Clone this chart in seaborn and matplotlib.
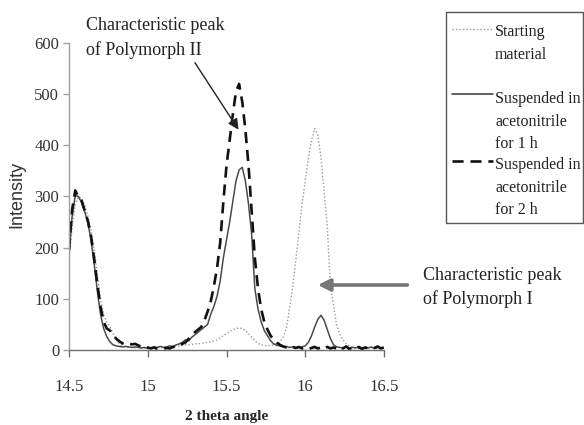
import numpy as np
import pandas as pd
import matplotlib
matplotlib.use("Agg")
import matplotlib.pyplot as plt
import seaborn as sns

# ---- data ----
two_theta = [round(14.5 + 0.02 * i, 2) for i in range(101)]

starting_material = [
    175, 240, 285, 300, 296, 282, 262, 235, 195, 148,
    100, 68, 55, 45, 32, 20, 12, 8, 6, 5,
    5, 4, 5, 3, 4, 5, 4, 3, 5, 4,
    6, 5, 4, 6, 7, 8, 9, 10, 10, 11,
    12, 12, 13, 14, 15, 16, 18, 20, 24, 28,
    32, 36, 40, 42, 43, 42, 38, 32, 25, 18,
    13, 10, 9, 8, 9, 10, 12, 16, 25, 42,
    80, 123, 175, 230, 285, 330, 375, 410, 433, 420,
    375, 310, 240, 125, 85, 48, 30, 20, 12, 8,
    6, 5, 4, 5, 3, 4, 5, 3, 4, 5, 4,
]

suspended_1h = [
    185, 262, 302, 300, 288, 270, 248, 215, 168, 115,
    70, 42, 26, 16, 10, 8, 7, 6, 7, 6,
    5, 6, 5, 4, 5, 3, 4, 6, 5, 7,
    5, 6, 8, 7, 10, 12, 15, 20, 18, 25,
    30, 35, 40, 45, 50, 70, 85, 105, 135, 180,
    215, 250, 290, 330, 352, 357, 330, 285, 225, 120,
    80, 55, 38, 28, 18, 12, 9, 8, 6, 7,
    5, 6, 4, 5, 6, 8, 15, 28, 45, 60,
    68, 58, 40, 22, 10, 6, 5, 4, 6, 3,
    5, 4, 6, 3, 5, 4, 6, 3, 5, 4, 5,
]

suspended_2h = [
    195, 275, 312, 298, 292, 272, 252, 222, 178, 128,
    85, 55, 42, 38, 30, 22, 17, 13, 10, 12,
    11, 12, 9, 6, 4, 5, 3, 5, 2, 3,
    2, 4, 3, 6, 5, 8, 12, 15, 22, 28,
    35, 40, 45, 58, 75, 95, 125, 160, 210, 290,
    360, 410, 460, 505, 520, 485, 430, 360, 270, 180,
    120, 80, 55, 40, 28, 20, 14, 10, 7, 5,
    8, 6, 4, 6, 3, 5, 2, 4, 6, 3,
    5, 2, 6, 3, 5, 2, 6, 3, 7, 2,
    5, 3, 6, 2, 5, 3, 6, 4, 7, 3, 5,
]

y_ticks = [0, 100, 200, 300, 400, 500, 600]
x_ticks = [14.5, 15, 15.5, 16, 16.5]
x_tick_labels = ["14.5", "15", "15.5", "16", "16.5"]

series_names = ["Starting\nmaterial",
                "Suspended in\nacetonitrile\nfor 1 h",
                "Suspended in\nacetonitrile\nfor 2 h"]

# ---- plot ----
sns.set_style("white")
plt.rcParams["font.family"] = ["Liberation Serif", "DejaVu Serif"]

fig = plt.figure(figsize=(5.84, 4.25), dpi=100)
ax = fig.add_axes([69 / 584, 1 - 350 / 425, (384 - 69) / 584, (350 - 43) / 425])

df = pd.DataFrame({"x": two_theta,
                   "sm": starting_material,
                   "h1": suspended_1h,
                   "h2": suspended_2h})

dash_style = (0, (4.2, 2.6))
sns.lineplot(data=df, x="x", y="sm", ax=ax, color="#9a9a9a", lw=1.0,
             linestyle=(0, (1, 1.5)))
sns.lineplot(data=df, x="x", y="h1", ax=ax, color="#4a4a4a", lw=1.1)
sns.lineplot(data=df, x="x", y="h2", ax=ax, color="#111111", lw=1.9,
             linestyle=dash_style)

ax.set_xlim(14.5, 16.5)
ax.set_ylim(0, 600)
ax.set_xticks(x_ticks)
ax.set_xticklabels(x_tick_labels)
ax.set_yticks(y_ticks)

for s in ["top", "right"]:
    ax.spines[s].set_visible(False)
ax.spines["left"].set_color("#a0a0a0")
ax.spines["bottom"].set_color("#707070")
ax.spines["left"].set_linewidth(1.0)
ax.spines["bottom"].set_linewidth(1.0)
ax.tick_params(axis="y", left=True, length=4, width=1, color="#a0a0a0",
               labelsize=12, labelcolor="#333333", pad=3)
ax.tick_params(axis="x", bottom=True, length=5, width=1, color="#707070",
               labelsize=12, labelcolor="#333333", pad=16)

ax.set_xlabel("2 theta angle", fontsize=11, fontweight="bold")
ax.xaxis.set_label_coords(0.5, (350 - 410) / 307)
ax.set_ylabel("Intensity", fontsize=13,
              family=["Liberation Sans Narrow", "Liberation Sans", "DejaVu Sans"],
              color="#333333")
ax.yaxis.set_label_coords((25 - 69) / 315, (350 - 194) / 307)

# annotations
ax.text(14.608, 650, "Characteristic peak\nof Polymorph II", fontsize=13,
        ha="left", va="top", color="#222222", linespacing=1.45, clip_on=False)
ax.annotate("", xy=(15.586, 426), xytext=(15.29, 566),
            arrowprops=dict(arrowstyle="-|>", color="#222222", lw=1.0,
                            mutation_scale=16), annotation_clip=False)

ax.text(16.749, 162, "Characteristic peak\nof Polymorph I", fontsize=13,
        ha="left", va="top", color="#222222", linespacing=1.4, clip_on=False)
ax.annotate("", xy=(16.062, 127), xytext=(16.666, 127),
            arrowprops=dict(arrowstyle="-|>", color="#777777", lw=2.6,
                            mutation_scale=18), annotation_clip=False)

# legend (box with handles, drawn in figure pixel coordinates)
W, H = 584, 425
def fx(px):
    return px / W
def fy(py):
    return 1 - py / H

fig.patches.append(plt.Rectangle((fx(445.5), fy(223)), fx(583) - fx(445.5),
                                 fy(12) - fy(223), transform=fig.transFigure,
                                 fill=False, edgecolor="#555555", lw=1.0))
handle_styles = [dict(color="#9a9a9a", lw=1.0, linestyle=(0, (1, 1.5))),
                 dict(color="#333333", lw=1.1, linestyle="-"),
                 dict(color="#111111", lw=1.9, linestyle=dash_style)]
handle_y = [29, 94, 161]
text_top = [24, 91, 157]
for name, st, hy, ty in zip(series_names, handle_styles, handle_y, text_top):
    fig.lines.append(plt.Line2D([fx(452), fx(493)], [fy(hy), fy(hy)],
                                transform=fig.transFigure, **st))
    fig.text(fx(495), fy(ty), name, fontsize=11.5, ha="left", va="top",
             color="#222222", linespacing=1.55)

fig.savefig("out.png", dpi=100, facecolor="white")
